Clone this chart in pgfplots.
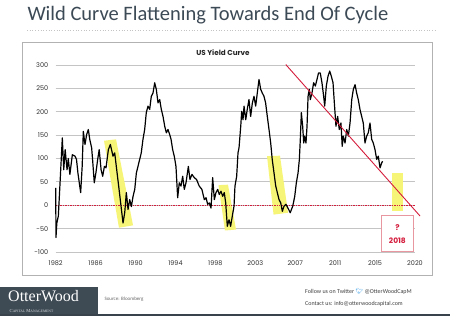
\documentclass[border=0pt]{standalone}
\usepackage{pgfplots}
\pgfplotsset{compat=1.18}
\usepackage{fontspec}
\setmainfont{Carlito}
\newfontfamily\pop{Poppins}
\newfontfamily\lserif{Liberation Serif}
\newfontfamily\emoji{Noto Emoji}
\definecolor{titlecol}{RGB}{60,74,86}
\definecolor{crim}{RGB}{212,28,60}
\definecolor{hyel}{RGB}{247,245,120}
\definecolor{gridc}{RGB}{196,196,196}
\definecolor{slate}{RGB}{62,74,84}
\definecolor{boxred}{RGB}{232,150,160}
\definecolor{twblue}{RGB}{40,150,230}
\begin{document}
\begin{tikzpicture}[x=1pt,y=1pt]
\fill[white] (0,0) rectangle (450,321);
\useasboundingbox (0,0) rectangle (450,321);
% slide title
\node[anchor=base west, inner sep=0, text=titlecol, font=\fontsize{20.5}{23}\selectfont] at (27.3,300.3) {Wild Curve Flattening Towards End Of Cycle};
\draw[gridc, line width=0.8pt, dash pattern=on 1pt off 1.7pt] (27,291) -- (435,291);
% chart frame
\draw[gray!60, line width=0.8pt] (22.7,279) rectangle (432,46);
\node[font=\pop\bfseries\fontsize{7.2}{8}\selectfont, text=black!85] at (223,268) {US Yield Curve};
\begin{axis}[
  at={(55.7pt,69pt)}, anchor=south west,
  width=359.3pt, height=187pt, scale only axis,
  xmin=1982, xmax=2020, ymin=-100, ymax=300,
  clip=false,
  axis line style={draw=none},
  tick style={draw=none},
  ytick={-100,-50,0,50,100,150,200,250,300},
  xtick={1982,1986.2222,1990.4444,1994.6667,1998.8889,2003.1111,2007.3333,2011.5556,2015.7778,2020},
  xticklabels={1982,1986,1990,1994,1998,2003,2007,2011,2015,2020},
  ymajorgrids,
  major grid style={gridc, line width=0.9pt},
  /pgf/number format/assume math mode=true,
  ticklabel style={font=\pop\fontsize{6.5}{7}\selectfont, text=black!80},
  yticklabel style={xshift=-4pt},
  xticklabel style={yshift=-5pt},
]
% highlight zones
\addplot[fill=hyel, draw=none] coordinates {(1987.11,138) (1988.38,141) (1990.18,-43) (1988.69,-48)} -- cycle;
\addplot[fill=hyel, draw=none] coordinates {(1999.22,43) (2000.22,44) (2001.07,-52) (1999.9,-54)} -- cycle;
\addplot[fill=hyel, draw=none] coordinates {(2004.35,105) (2005.72,106) (2006.57,-16) (2005.04,-20)} -- cycle;
\addplot[fill=hyel, draw=none] coordinates {(2017.54,68) (2018.70,68) (2018.70,-13) (2017.54,-13)} -- cycle;
% zero line
\addplot[crim, line width=1pt, dash pattern=on 1.4pt off 1pt] coordinates {(1982,0) (2020,0)};
% yield curve
\addplot[black, line width=1.2pt, line join=round] coordinates {
(1982.00,37) (1982.03,-69) (1982.12,-38) (1982.28,-23) (1982.45,44) (1982.70,144) (1982.85,76)
(1983.00,119) (1983.20,76) (1983.33,100) (1983.50,66) (1983.76,108) (1984.04,105) (1984.20,98)
(1984.35,69) (1984.64,27) (1984.80,83) (1984.92,158) (1985.10,130) (1985.27,151) (1985.45,162)
(1985.60,141) (1985.80,123) (1985.90,98) (1986.08,48) (1986.25,69) (1986.44,98) (1986.60,119)
(1986.80,76) (1986.97,62) (1987.15,83) (1987.32,80) (1987.57,119) (1987.78,130) (1988.06,105)
(1988.24,112) (1988.41,83) (1988.66,41) (1988.87,5) (1989.12,-38) (1989.30,-16) (1989.47,27)
(1989.65,-9) (1989.83,12) (1990.00,-3) (1990.18,19) (1990.36,34) (1990.53,69) (1990.70,83)
(1990.88,98) (1991.05,112) (1991.23,141) (1991.41,162) (1991.58,198) (1991.76,212) (1991.94,205)
(1992.11,233) (1992.29,240) (1992.47,262) (1992.64,248) (1992.82,219) (1993.00,226) (1993.17,205)
(1993.35,190) (1993.53,169) (1993.70,155) (1993.88,162) (1994.06,151) (1994.20,141) (1994.37,119)
(1994.54,105) (1994.72,83) (1994.90,16) (1995.07,48) (1995.25,41) (1995.43,62) (1995.60,34)
(1995.78,48) (1996.03,83) (1996.20,55) (1996.41,66) (1996.66,59) (1996.90,55) (1997.18,41)
(1997.46,34) (1997.72,12) (1997.90,16) (1998.07,2) (1998.25,5) (1998.43,-6) (1998.60,59)
(1998.78,12) (1998.95,27) (1999.13,34) (1999.30,23) (1999.48,30) (1999.66,19) (1999.83,27)
(1999.98,5) (2000.15,-45) (2000.33,-31) (2000.50,-45) (2000.68,-23) (2000.86,-2) (2000.96,41)
(2001.14,62) (2001.28,112) (2001.39,123) (2001.57,169) (2001.67,201) (2001.81,183) (2001.92,212)
(2002.10,183) (2002.26,205) (2002.44,226) (2002.62,190) (2002.80,219) (2002.97,233) (2003.15,212)
(2003.32,240) (2003.50,269) (2003.68,248) (2003.85,240) (2004.03,233) (2004.20,219) (2004.38,190)
(2004.56,162) (2004.74,133) (2004.90,98) (2005.09,69) (2005.27,41) (2005.44,27) (2005.62,12)
(2005.80,5) (2005.97,-13) (2006.15,-2) (2006.35,2) (2006.64,-9) (2006.80,-16) (2007.07,-2)
(2007.28,19) (2007.45,48) (2007.63,69) (2007.77,98) (2007.87,141) (2007.98,198) (2008.12,169)
(2008.23,133) (2008.33,148) (2008.47,133) (2008.58,169) (2008.69,233) (2008.82,248) (2008.93,226)
(2009.10,240) (2009.28,262) (2009.46,255) (2009.63,269) (2009.80,283) (2009.98,283) (2010.16,262)
(2010.34,233) (2010.45,212) (2010.62,255) (2010.80,276) (2010.98,287) (2011.15,276) (2011.33,262)
(2011.47,219) (2011.64,169) (2011.82,190) (2011.99,162) (2012.17,176) (2012.30,126) (2012.42,148)
(2012.60,133) (2012.78,162) (2012.95,148) (2013.13,176) (2013.31,226) (2013.48,248) (2013.66,258)
(2013.83,240) (2014.00,226) (2014.18,205) (2014.36,190) (2014.53,176) (2014.71,133) (2014.89,148)
(2015.06,155) (2015.24,176) (2015.42,141) (2015.59,133) (2015.77,119) (2015.95,98) (2016.12,105)
(2016.30,80) (2016.48,91) (2016.58,94)
};
% trend line
\addplot[crim, line width=0.9pt] coordinates {(2006.33,301) (2020.53,-23)};
% question box
\draw[boxred, line width=0.8pt, fill=white] (axis cs:2016.43,-21.4) rectangle (axis cs:2019.85,-98.4);
\node[text=crim, font=\pop\bfseries\fontsize{8}{9}\selectfont] at (axis cs:2018.14,-47) {?};
\node[text=crim, font=\pop\bfseries\fontsize{7.5}{9}\selectfont] at (axis cs:2018.14,-75) {2018};
\end{axis}
% footer
\fill[slate] (0,6) rectangle (98,34.3);
\node[anchor=north west, inner sep=0, text=white, align=left] at (8,30.5)
  {{\lserif\fontsize{16}{14}\selectfont OtterWood}\\[-1.5pt]
   \hspace*{1.5pt}{\lserif\fontsize{4.6}{5}\selectfont\color{white!80!slate}C\scalebox{0.78}{APITAL} M\scalebox{0.78}{ANAGEMENT}}};
\node[anchor=west, inner sep=0, text=black!60, font=\fontsize{5}{6}\selectfont] at (104.3,21.7) {Source: Bloomberg};
\node[anchor=west, inner sep=0, text=black!75, font=\fontsize{6}{7}\selectfont] at (305,29.3) {Follow us on Twitter {\emoji\textcolor{twblue}{^^^^^^01f426}} @OtterWoodCapM};
\node[anchor=west, inner sep=0, text=black!75, font=\fontsize{6}{7}\selectfont] at (305,16.7) {Contact us: info@otterwoodcapital.com};
\draw[slate!90!black, line width=2pt] (0,5.5) -- (450,5.5);
\end{tikzpicture}
\end{document}
